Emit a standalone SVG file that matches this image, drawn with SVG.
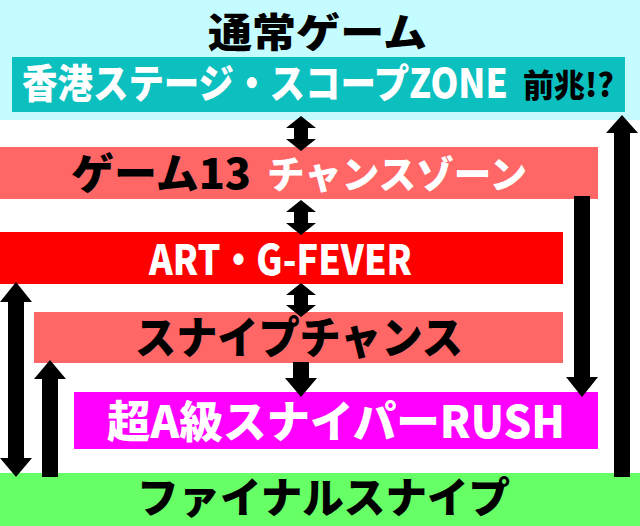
<svg xmlns="http://www.w3.org/2000/svg" width="640" height="526" viewBox="0 0 640 526">
<style>
text{font-family:"Noto Sans CJK JP","Noto Sans",sans-serif;font-weight:900}
.w{fill:#ffffff}
.k{fill:#000000}
.arr{fill:#000000}
</style>
<rect x="0" y="0" width="640" height="526" fill="#ffffff"/>
<g id="node-normal">
<rect x="0" y="0" width="640" height="120" fill="#c4fcff"/>
<text class="k" x="208" y="46.6" font-size="40" textLength="219" lengthAdjust="spacingAndGlyphs">通常ゲーム</text>
<rect x="12" y="57" width="613" height="55" fill="#0cc0c0"/>
<text class="w" transform="translate(22,98) scale(0.88,1)" x="0" y="0" font-size="40" textLength="552" lengthAdjust="spacingAndGlyphs">香港ステージ・スコープZONE</text>
<text class="k" x="523" y="97" font-size="32" textLength="91" lengthAdjust="spacingAndGlyphs">前兆!?</text>
</g>
<g id="node-game13">
<rect x="0" y="147" width="598" height="52" fill="#ff6666"/>
<text class="k" x="71" y="189" font-size="42" textLength="180" lengthAdjust="spacingAndGlyphs">ゲーム13</text>
<text class="w" x="267" y="188" font-size="38" textLength="260" lengthAdjust="spacingAndGlyphs">チャンスゾーン</text>
</g>
<g id="node-art">
<rect x="0" y="232" width="563" height="52" fill="#ff0000"/>
<text class="w" x="149" y="275" font-size="41" textLength="263" lengthAdjust="spacingAndGlyphs">ART・G-FEVER</text>
</g>
<g id="node-snipe-chance">
<rect x="34" y="312" width="529" height="51" fill="#ff6666"/>
<text class="k" x="135" y="354" font-size="44" textLength="328" lengthAdjust="spacingAndGlyphs">スナイプチャンス</text>
</g>
<g id="node-rush">
<rect x="74" y="392" width="524" height="57" fill="#ff00ff"/>
<text class="w" x="107" y="438" font-size="44" textLength="458" lengthAdjust="spacingAndGlyphs">超A級スナイパーRUSH</text>
</g>
<g id="node-final">
<rect x="0" y="473" width="640" height="53" fill="#66ff66"/>
<text class="k" x="137" y="513" font-size="42" textLength="373" lengthAdjust="spacingAndGlyphs">ファイナルスナイプ</text>
</g>
<g id="connectors">
<polygon class="arr" points="301,116 316,128 308,128 308,139 316,139 301,151 286,139 294,139 294,128 286,128"/>
<polygon class="arr" points="301,200 316,212 308,212 308,223 316,223 301,235 286,223 294,223 294,212 286,212"/>
<polygon class="arr" points="301,283 316,295 308,295 308,305 316,305 301,317 286,305 294,305 294,295 286,295"/>
<polygon class="arr" points="293,362 309,362 309,378 317,378 301,397 285,378 293,378"/>
<polygon class="arr" points="622,115 638,133 630,133 630,477 614,477 614,133 606,133"/>
<polygon class="arr" points="574,196 590,196 590,377 598,377 582,397 566,377 574,377"/>
<polygon class="arr" points="16,282 32,302 24,302 24,458 32,458 16,477 0,458 8,458 8,302 0,302"/>
<polygon class="arr" points="50,360 66,379 58,379 58,477 42,477 42,379 34,379"/>
</g>
</svg>
